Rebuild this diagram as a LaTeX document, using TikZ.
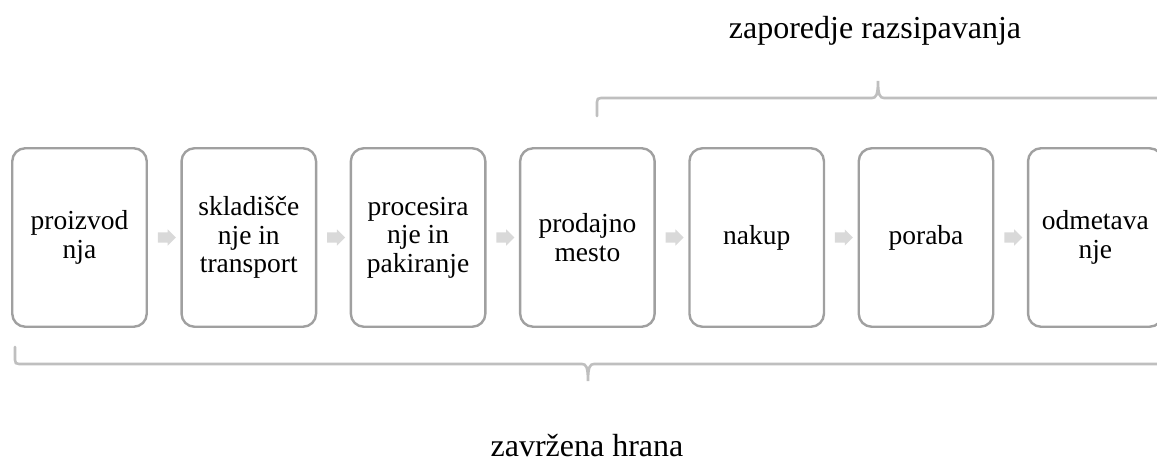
\documentclass[tikz,border=0pt]{standalone}
\usepackage{fontspec}
\setmainfont{Liberation Serif}
\newfontfamily\boxfont{Liberation Serif}
\usetikzlibrary{shapes.arrows}
\definecolor{boxline}{RGB}{160,160,160}
\definecolor{braceline}{RGB}{191,191,191}
\definecolor{arrowfill}{RGB}{217,217,217}
\tikzset{
  stepbox/.style={draw=boxline, line width=2.4pt, rounded corners=13pt,
    minimum width=134.5pt, minimum height=178.5pt, align=center, inner sep=0pt,
    font=\boxfont\fontsize{27.5pt}{28.5pt}\selectfont},
  flowarrow/.style={single arrow, fill=arrowfill, draw=none, minimum height=18pt,
    inner xsep=0pt, inner ysep=5pt, single arrow head extend=3pt, rounded corners=0pt},
  bracepath/.style={draw=braceline, line width=2.6pt, line cap=round},
  bracelabel/.style={font=\boxfont\fontsize{32pt}{34pt}\selectfont, anchor=base, inner sep=0pt}
}
\begin{document}
\begin{tikzpicture}[x=1pt,y=-1pt]
\useasboundingbox (0,0) rectangle (1157,462);
\node[stepbox] (b1) at (79.5,237.5) {proizvod\\nja};
\node[stepbox] (b2) at (248.8,237.5) {skladišče\\nje in\\transport};
\node[stepbox] (b3) at (418.1,237.5) {procesira\\nje in\\pakiranje};
\node[stepbox] (b4) at (587.4,237.5) {prodajno\\mesto};
\node[stepbox] (b5) at (756.7,237.5) {nakup};
\node[stepbox] (b6) at (926.0,237.5) {poraba};
\node[stepbox] (b7) at (1095.3,237.5) {odmetava\\nje};
\foreach \a/\b in {1/2,2/3,3/4,4/5,5/6,6/7}{
  \path (b\a) -- node[flowarrow]{} (b\b);
}
% upper brace
\coordinate (ut) at (878,81);
\draw[bracepath] (597,116) -- (597,102)
  .. controls (597,99) and (598,98) .. (601,98) -- (872,98)
  .. controls (876,98) and (878,95) .. (ut)
  .. controls (878,95) and (880,98) .. (884,98) -- (1170,98);
\node[bracelabel] (top) at (875,39) {zaporedje razsipavanja};
% lower brace
\coordinate (lt) at (588,381);
\draw[bracepath] (15,347) -- (15,360)
  .. controls (15,363) and (16,364) .. (19,364) -- (582,364)
  .. controls (586,364) and (588,367) .. (lt)
  .. controls (588,367) and (590,364) .. (594,364) -- (1170,364);
\node[bracelabel] (bot) at (587,456) {zavržena hrana};
\end{tikzpicture}
\end{document}
